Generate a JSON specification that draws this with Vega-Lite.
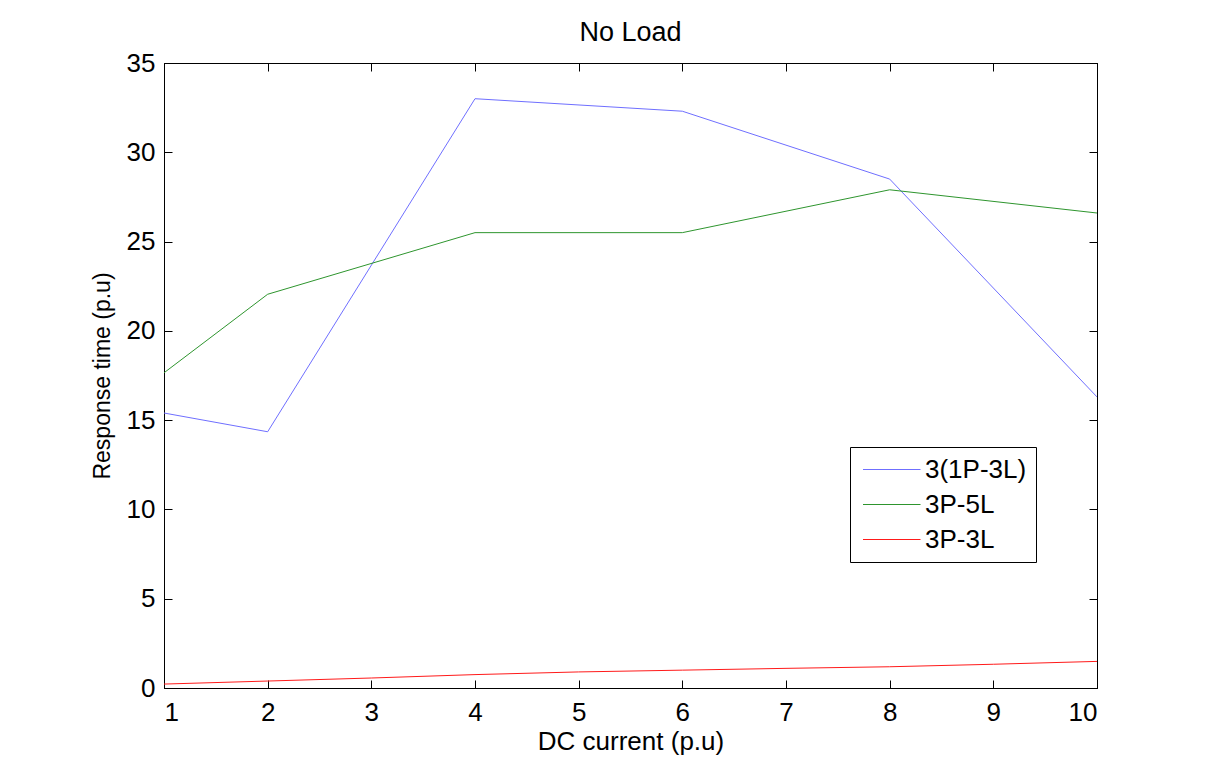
{
  "$schema": "https://vega.github.io/schema/vega-lite/v6.json",
  "width": 933,
  "height": 625,
  "autosize": {"type": "none"},
  "padding": {"left": 164, "top": 63, "right": 112, "bottom": 81},
  "background": "white",
  "title": {"text": "No Load", "fontSize": 27, "font": "Liberation Sans", "fontWeight": "normal", "color": "black", "offset": 3},
  "config": {
    "view": {"stroke": "black", "strokeWidth": 1},
    "axis": {
      "grid": false,
      "domainColor": "black",
      "tickColor": "black",
      "tickSize": -8,
      "labelFont": "Liberation Sans",
      "labelFontSize": 26,
      "labelColor": "black",
      "titleFont": "Liberation Sans",
      "titleFontSize": 26,
      "titleFontWeight": "normal",
      "titleColor": "black"
    }
  },
  "data": {
    "values": [
      {"x": 1, "y": 15.4, "series": "3(1P-3L)"},
      {"x": 2, "y": 14.35, "series": "3(1P-3L)"},
      {"x": 4, "y": 33.0, "series": "3(1P-3L)"},
      {"x": 6, "y": 32.3, "series": "3(1P-3L)"},
      {"x": 8, "y": 28.5, "series": "3(1P-3L)"},
      {"x": 10, "y": 16.3, "series": "3(1P-3L)"},
      {"x": 1, "y": 17.65, "series": "3P-5L"},
      {"x": 2, "y": 22.05, "series": "3P-5L"},
      {"x": 4, "y": 25.5, "series": "3P-5L"},
      {"x": 6, "y": 25.5, "series": "3P-5L"},
      {"x": 8, "y": 27.9, "series": "3P-5L"},
      {"x": 10, "y": 26.6, "series": "3P-5L"},
      {"x": 1, "y": 0.22, "series": "3P-3L"},
      {"x": 2, "y": 0.39, "series": "3P-3L"},
      {"x": 3, "y": 0.56, "series": "3P-3L"},
      {"x": 4, "y": 0.75, "series": "3P-3L"},
      {"x": 5, "y": 0.9, "series": "3P-3L"},
      {"x": 6, "y": 1.0, "series": "3P-3L"},
      {"x": 7, "y": 1.1, "series": "3P-3L"},
      {"x": 8, "y": 1.19, "series": "3P-3L"},
      {"x": 9, "y": 1.33, "series": "3P-3L"},
      {"x": 10, "y": 1.49, "series": "3P-3L"}
    ]
  },
  "layer": [
    {
      "mark": {"type": "line", "strokeWidth": 1, "clip": true},
      "encoding": {
        "x": {"field": "x", "type": "quantitative", "scale": {"domain": [1, 10], "nice": false, "zero": false},
              "axis": {"orient": "bottom", "title": "DC current (p.u)", "values": [1,2,3,4,5,6,7,8,9,10], "labelPadding": 19, "titlePadding": 3}},
        "y": {"field": "y", "type": "quantitative", "scale": {"domain": [0, 35], "nice": false},
              "axis": {"orient": "left", "title": "Response time (p.u)", "titleFontSize": 23, "values": [0,5,10,15,20,25,30,35], "labelPadding": 17, "titlePadding": 12}},
        "color": {"field": "series", "type": "nominal",
                  "scale": {"domain": ["3(1P-3L)", "3P-5L", "3P-3L"], "range": ["#6f6fff", "#2e952e", "#ff1a1a"]},
                  "legend": {"orient": "none", "legendX": 686, "legendY": 384, "title": null,
                             "strokeColor": "black", "fillColor": "white", "padding": 9,
                             "symbolType": "M-1,0H3.6", "symbolSize": 625, "symbolStrokeWidth": 1.2, "symbolOffset": 3,
                             "labelFont": "Liberation Sans", "labelFontSize": 26, "labelColor": "black",
                             "labelOffset": 36, "rowPadding": 8}}
      }
    },
    {
      "mark": {"type": "line", "opacity": 0},
      "encoding": {
        "x": {"field": "x", "type": "quantitative", "axis": {"orient": "top", "title": null, "labels": false, "values": [1,2,3,4,5,6,7,8,9,10]}},
        "y": {"field": "y", "type": "quantitative", "axis": {"orient": "right", "title": null, "labels": false, "values": [0,5,10,15,20,25,30,35]}}
      }
    }
  ],
  "resolve": {"axis": {"x": "independent", "y": "independent"}}
}
